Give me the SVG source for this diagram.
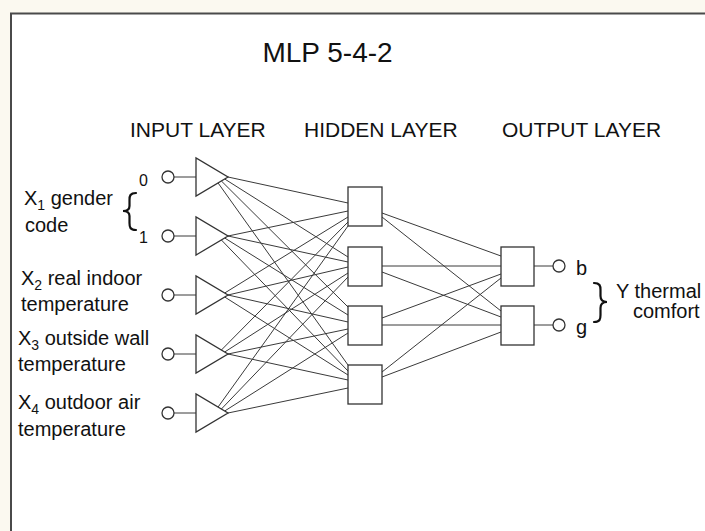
<svg xmlns="http://www.w3.org/2000/svg" width="705" height="531" viewBox="0 0 705 531">
<style>
text{font-family:"Liberation Sans",Arial,sans-serif;fill:#111}
.t{font-size:28px}
.h{font-size:21px}
.l{font-size:20px}
.d{font-size:16px}
.sub{font-size:14px}
.shape{fill:#fff;stroke:#333;stroke-width:1.3}
.c line{stroke:#3a3a3a;stroke-width:1}
.br{fill:none;stroke:#111;stroke-width:2.2;stroke-linecap:round}
</style>
<rect x="0" y="0" width="705" height="531" fill="#fbf9f0"/>
<rect x="11" y="13.5" width="720" height="540" fill="#fff" stroke="#4a4a4a" stroke-width="2"/>
<text class="t" x="327.5" y="62" text-anchor="middle">MLP 5-4-2</text>
<text class="h" x="130" y="137">INPUT LAYER</text>
<text class="h" x="304" y="137">HIDDEN LAYER</text>
<text class="h" x="502" y="137">OUTPUT LAYER</text>

<g id="labels-in">
<text class="l" x="24" y="205">X<tspan class="sub" dy="5">1</tspan><tspan dy="-5"> gender</tspan></text>
<text class="l" x="25" y="232">code</text>
<path class="br" d="M136,193 C130,193 129.5,196 129.5,200 L129.5,206 C129.5,209.5 127,211 123,211 C127,211 129.5,212.5 129.5,216 L129.5,223 C129.5,227 130,230 136,230"/>
<text class="d" x="139" y="186">0</text>
<text class="d" x="139" y="243">1</text>
<text class="l" x="21" y="285">X<tspan class="sub" dy="5">2</tspan><tspan dy="-5"> real indoor</tspan></text>
<text class="l" x="21" y="311">temperature</text>
<text class="l" x="18" y="345">X<tspan class="sub" dy="5">3</tspan><tspan dy="-5"> outside wall</tspan></text>
<text class="l" x="18" y="371">temperature</text>
<text class="l" x="18" y="409">X<tspan class="sub" dy="5">4</tspan><tspan dy="-5"> outdoor air</tspan></text>
<text class="l" x="18" y="436">temperature</text>
</g>

<g id="connectors" class="c">
<line x1="174" y1="177" x2="196" y2="177"/>
<line x1="174" y1="236" x2="196" y2="236"/>
<line x1="174" y1="295" x2="196" y2="295"/>
<line x1="174" y1="354" x2="196" y2="354"/>
<line x1="174" y1="413" x2="196" y2="413"/>

<line x1="228" y1="177" x2="348" y2="203"/>
<line x1="224.7" y1="179" x2="348" y2="257"/>
<line x1="221.4" y1="181" x2="348" y2="307"/>
<line x1="218.1" y1="183" x2="348" y2="365"/>

<line x1="228" y1="236" x2="348" y2="211"/>
<line x1="228" y1="236" x2="348" y2="262"/>
<line x1="224.7" y1="238" x2="348" y2="315"/>
<line x1="221.4" y1="240" x2="348" y2="371"/>

<line x1="224.7" y1="293" x2="348" y2="217"/>
<line x1="228" y1="295" x2="348" y2="267"/>
<line x1="228" y1="295" x2="348" y2="322"/>
<line x1="224.7" y1="297" x2="348" y2="375"/>

<line x1="221.4" y1="350" x2="348" y2="222"/>
<line x1="224.7" y1="352" x2="348" y2="273"/>
<line x1="228" y1="354" x2="348" y2="329"/>
<line x1="228" y1="354" x2="348" y2="380"/>

<line x1="218.1" y1="407" x2="348" y2="226"/>
<line x1="221.4" y1="409" x2="348" y2="277"/>
<line x1="224.7" y1="411" x2="348" y2="333"/>
<line x1="228" y1="413" x2="348" y2="388"/>

<line x1="382" y1="213" x2="501" y2="256"/>
<line x1="382" y1="217" x2="501" y2="311"/>
<line x1="382" y1="266" x2="501" y2="266"/>
<line x1="382" y1="272" x2="501" y2="317"/>
<line x1="382" y1="318" x2="501" y2="274"/>
<line x1="382" y1="325" x2="501" y2="325"/>
<line x1="382" y1="372" x2="501" y2="278"/>
<line x1="382" y1="377" x2="501" y2="332"/>

<line x1="534" y1="266" x2="553" y2="266"/>
<line x1="534" y1="325" x2="553" y2="325"/>
</g>

<g id="in1"><circle class="shape" cx="168" cy="177" r="6"/><polygon class="shape" points="196,158 196,196 228,177"/></g>
<g id="in2"><circle class="shape" cx="168" cy="236" r="6"/><polygon class="shape" points="196,217 196,255 228,236"/></g>
<g id="in3"><circle class="shape" cx="168" cy="295" r="6"/><polygon class="shape" points="196,276 196,314 228,295"/></g>
<g id="in4"><circle class="shape" cx="168" cy="354" r="6"/><polygon class="shape" points="196,335 196,373 228,354"/></g>
<g id="in5"><circle class="shape" cx="168" cy="413" r="6"/><polygon class="shape" points="196,394 196,432 228,413"/></g>

<g id="h1"><rect class="shape" x="348" y="187" width="34" height="39"/></g>
<g id="h2"><rect class="shape" x="348" y="247" width="34" height="39"/></g>
<g id="h3"><rect class="shape" x="348" y="306" width="34" height="39"/></g>
<g id="h4"><rect class="shape" x="348" y="365" width="34" height="39"/></g>

<g id="o1"><rect class="shape" x="501" y="247" width="33" height="39"/><circle class="shape" cx="559" cy="266" r="6"/><text class="l" x="576" y="275">b</text></g>
<g id="o2"><rect class="shape" x="501" y="306" width="33" height="39"/><circle class="shape" cx="559" cy="325" r="6"/><text class="l" x="576" y="334">g</text></g>

<g id="labels-out">
<path class="br" d="M594,283 C600,283 600.5,286 600.5,290 L600.5,296 C600.5,300 603,302 607,302 C603,302 600.5,304 600.5,308 L600.5,315 C600.5,319 600,322 594,322"/>
<text class="l" x="616" y="298">Y thermal</text>
<text class="l" x="633" y="318">comfort</text>
</g>
</svg>
